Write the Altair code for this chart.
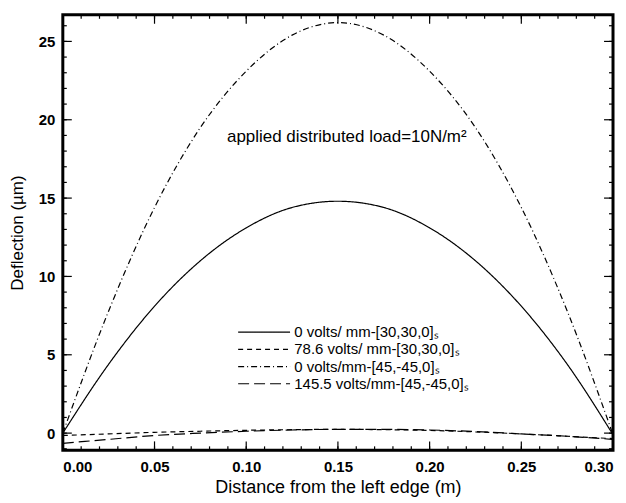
import altair as alt
import pandas as pd

# ---- data ----
x_pos = [0.0, 0.025, 0.05, 0.075, 0.10, 0.125, 0.15, 0.175, 0.20, 0.225, 0.25, 0.275, 0.30]
solid_0v_30 = [0.0, 4.4, 8.1, 11.0, 13.1, 14.4, 14.8, 14.4, 13.1, 11.0, 8.1, 4.4, -0.1]
dash_786v_30 = [-0.15, -0.05, 0.05, 0.12, 0.18, 0.22, 0.24, 0.22, 0.17, 0.08, -0.05, -0.2, -0.35]
dashdot_0v_45 = [0.0, 7.8, 14.4, 19.5, 23.1, 25.4, 26.2, 25.4, 23.1, 19.5, 14.4, 7.8, -0.1]
longdash_1455v_45 = [-0.65, -0.4, -0.15, 0.0, 0.12, 0.2, 0.24, 0.24, 0.2, 0.1, -0.05, -0.2, -0.4]

series_names = [
    "0 volts/ mm-[30,30,0]ₛ",
    "78.6 volts/ mm-[30,30,0]ₛ",
    "0 volts/mm-[45,-45,0]ₛ",
    "145.5 volts/mm-[45,-45,0]ₛ",
]
series_values = [solid_0v_30, dash_786v_30, dashdot_0v_45, longdash_1455v_45]
series_dash = [[1, 0], [5, 4], [6, 3, 1, 3], [11, 5]]

# legend placement read in data units
legend_row_y = [6.45, 5.35, 4.25, 3.15]
legend_x_start = 0.0956
legend_x_end = 0.1239
legend_text_x = 0.1262

x_major = [0.0, 0.05, 0.10, 0.15, 0.20, 0.25, 0.30]
x_minor = [round(i * 0.01, 2) for i in range(31)]
y_major = [0, 5, 10, 15, 20, 25]
y_minor = list(range(-1, 27))

annot_text = ["applied distributed load=10N/m²"]
annot_x = [0.0895]
annot_y = [18.9]

X_DOMAIN = [0.0, 0.30]
Y_DOMAIN = [-1.1, 26.7]

rows = []
for name, vals in zip(series_names, series_values):
    for xv, yv in zip(x_pos, vals):
        rows.append({"x": xv, "y": yv, "series": name})
df = pd.DataFrame(rows)

leg_df = pd.DataFrame({
    "series": series_names,
    "y": legend_row_y,
    "x1": [legend_x_start] * 4,
    "x2": [legend_x_end] * 4,
    "xt": [legend_text_x] * 4,
})

FONT = "Liberation Sans"
W, H = 552, 437

xs = alt.Scale(domain=X_DOMAIN, nice=False, zero=False)
ys = alt.Scale(domain=Y_DOMAIN, nice=False, zero=False)
dash_scale = alt.Scale(domain=series_names, range=series_dash)

lines = alt.Chart(df).mark_line(strokeWidth=1.2, color="black", interpolate="monotone").encode(
    x=alt.X("x:Q", scale=xs, title="Distance from the left edge (m)",
            axis=alt.Axis(values=x_major, format=".2f", ticks=False, domain=False, grid=False,
                          labelFontSize=15, labelFontWeight="bold", labelPadding=9,
                          titleFontSize=18, titleFontWeight="normal", titlePadding=4)),
    y=alt.Y("y:Q", scale=ys, title="Deflection (µm)",
            axis=alt.Axis(values=y_major, format="d", ticks=False, domain=False, grid=False,
                          labelFontSize=15, labelFontWeight="bold", labelPadding=8,
                          titleFontSize=17, titleFontWeight="normal", titlePadding=12)),
    strokeDash=alt.StrokeDash("series:N", scale=dash_scale, legend=None),
    detail="series:N",
)

legend_lines = alt.Chart(leg_df).mark_rule(strokeWidth=1.2, color="black").encode(
    x=alt.X("x1:Q", scale=xs), x2="x2:Q", y=alt.Y("y:Q", scale=ys),
    strokeDash=alt.StrokeDash("series:N", scale=dash_scale, legend=None),
)
legend_text = alt.Chart(leg_df).mark_text(
    align="left", baseline="middle", fontSize=15, font=FONT, color="black"
).encode(x=alt.X("xt:Q", scale=xs), y=alt.Y("y:Q", scale=ys), text="series:N")

def tick_layer(data_vals, axis, side, length):
    d = pd.DataFrame({"v": data_vals})
    base = alt.Chart(d).mark_rule(color="black", strokeWidth=1.2)
    if axis == "y":
        if side == "left":
            return base.encode(y=alt.Y("v:Q", scale=ys), x=alt.value(0), x2=alt.value(length))
        return base.encode(y=alt.Y("v:Q", scale=ys), x=alt.value(W), x2=alt.value(W - length))
    else:
        if side == "bottom":
            return base.encode(x=alt.X("v:Q", scale=xs), y=alt.value(H), y2=alt.value(H - length))
        return base.encode(x=alt.X("v:Q", scale=xs), y=alt.value(0), y2=alt.value(length))

ticks = [
    tick_layer(y_minor, "y", "left", 4), tick_layer(y_major, "y", "left", 9),
    tick_layer(y_minor, "y", "right", 4), tick_layer(y_major, "y", "right", 9),
    tick_layer(x_minor, "x", "bottom", 4), tick_layer(x_major, "x", "bottom", 9),
    tick_layer(x_minor, "x", "top", 4), tick_layer(x_major, "x", "top", 9),
]

frame = alt.Chart(pd.DataFrame({"k": [0]})).mark_rect(
    fill=None, fillOpacity=0, stroke="black", strokeWidth=3
).encode(x=alt.value(0), x2=alt.value(W), y=alt.value(0), y2=alt.value(H))

annot = alt.Chart(pd.DataFrame({"t": annot_text, "x": annot_x, "y": annot_y})).mark_text(
    align="left", baseline="middle", fontSize=17, font=FONT, color="black"
).encode(x=alt.X("x:Q", scale=xs), y=alt.Y("y:Q", scale=ys), text="t:N")

chart = alt.layer(lines, legend_lines, legend_text, annot, *ticks, frame).properties(
    width=W, height=H,
    padding={"left": 0, "top": 4, "right": 2, "bottom": 0},
).configure_view(
    stroke=None
).configure_axis(
    labelFont=FONT, titleFont=FONT, labelColor="black", titleColor="black"
).configure(background="white")

chart.save("out.html", embed_options={"renderer": "svg", "actions": False})
